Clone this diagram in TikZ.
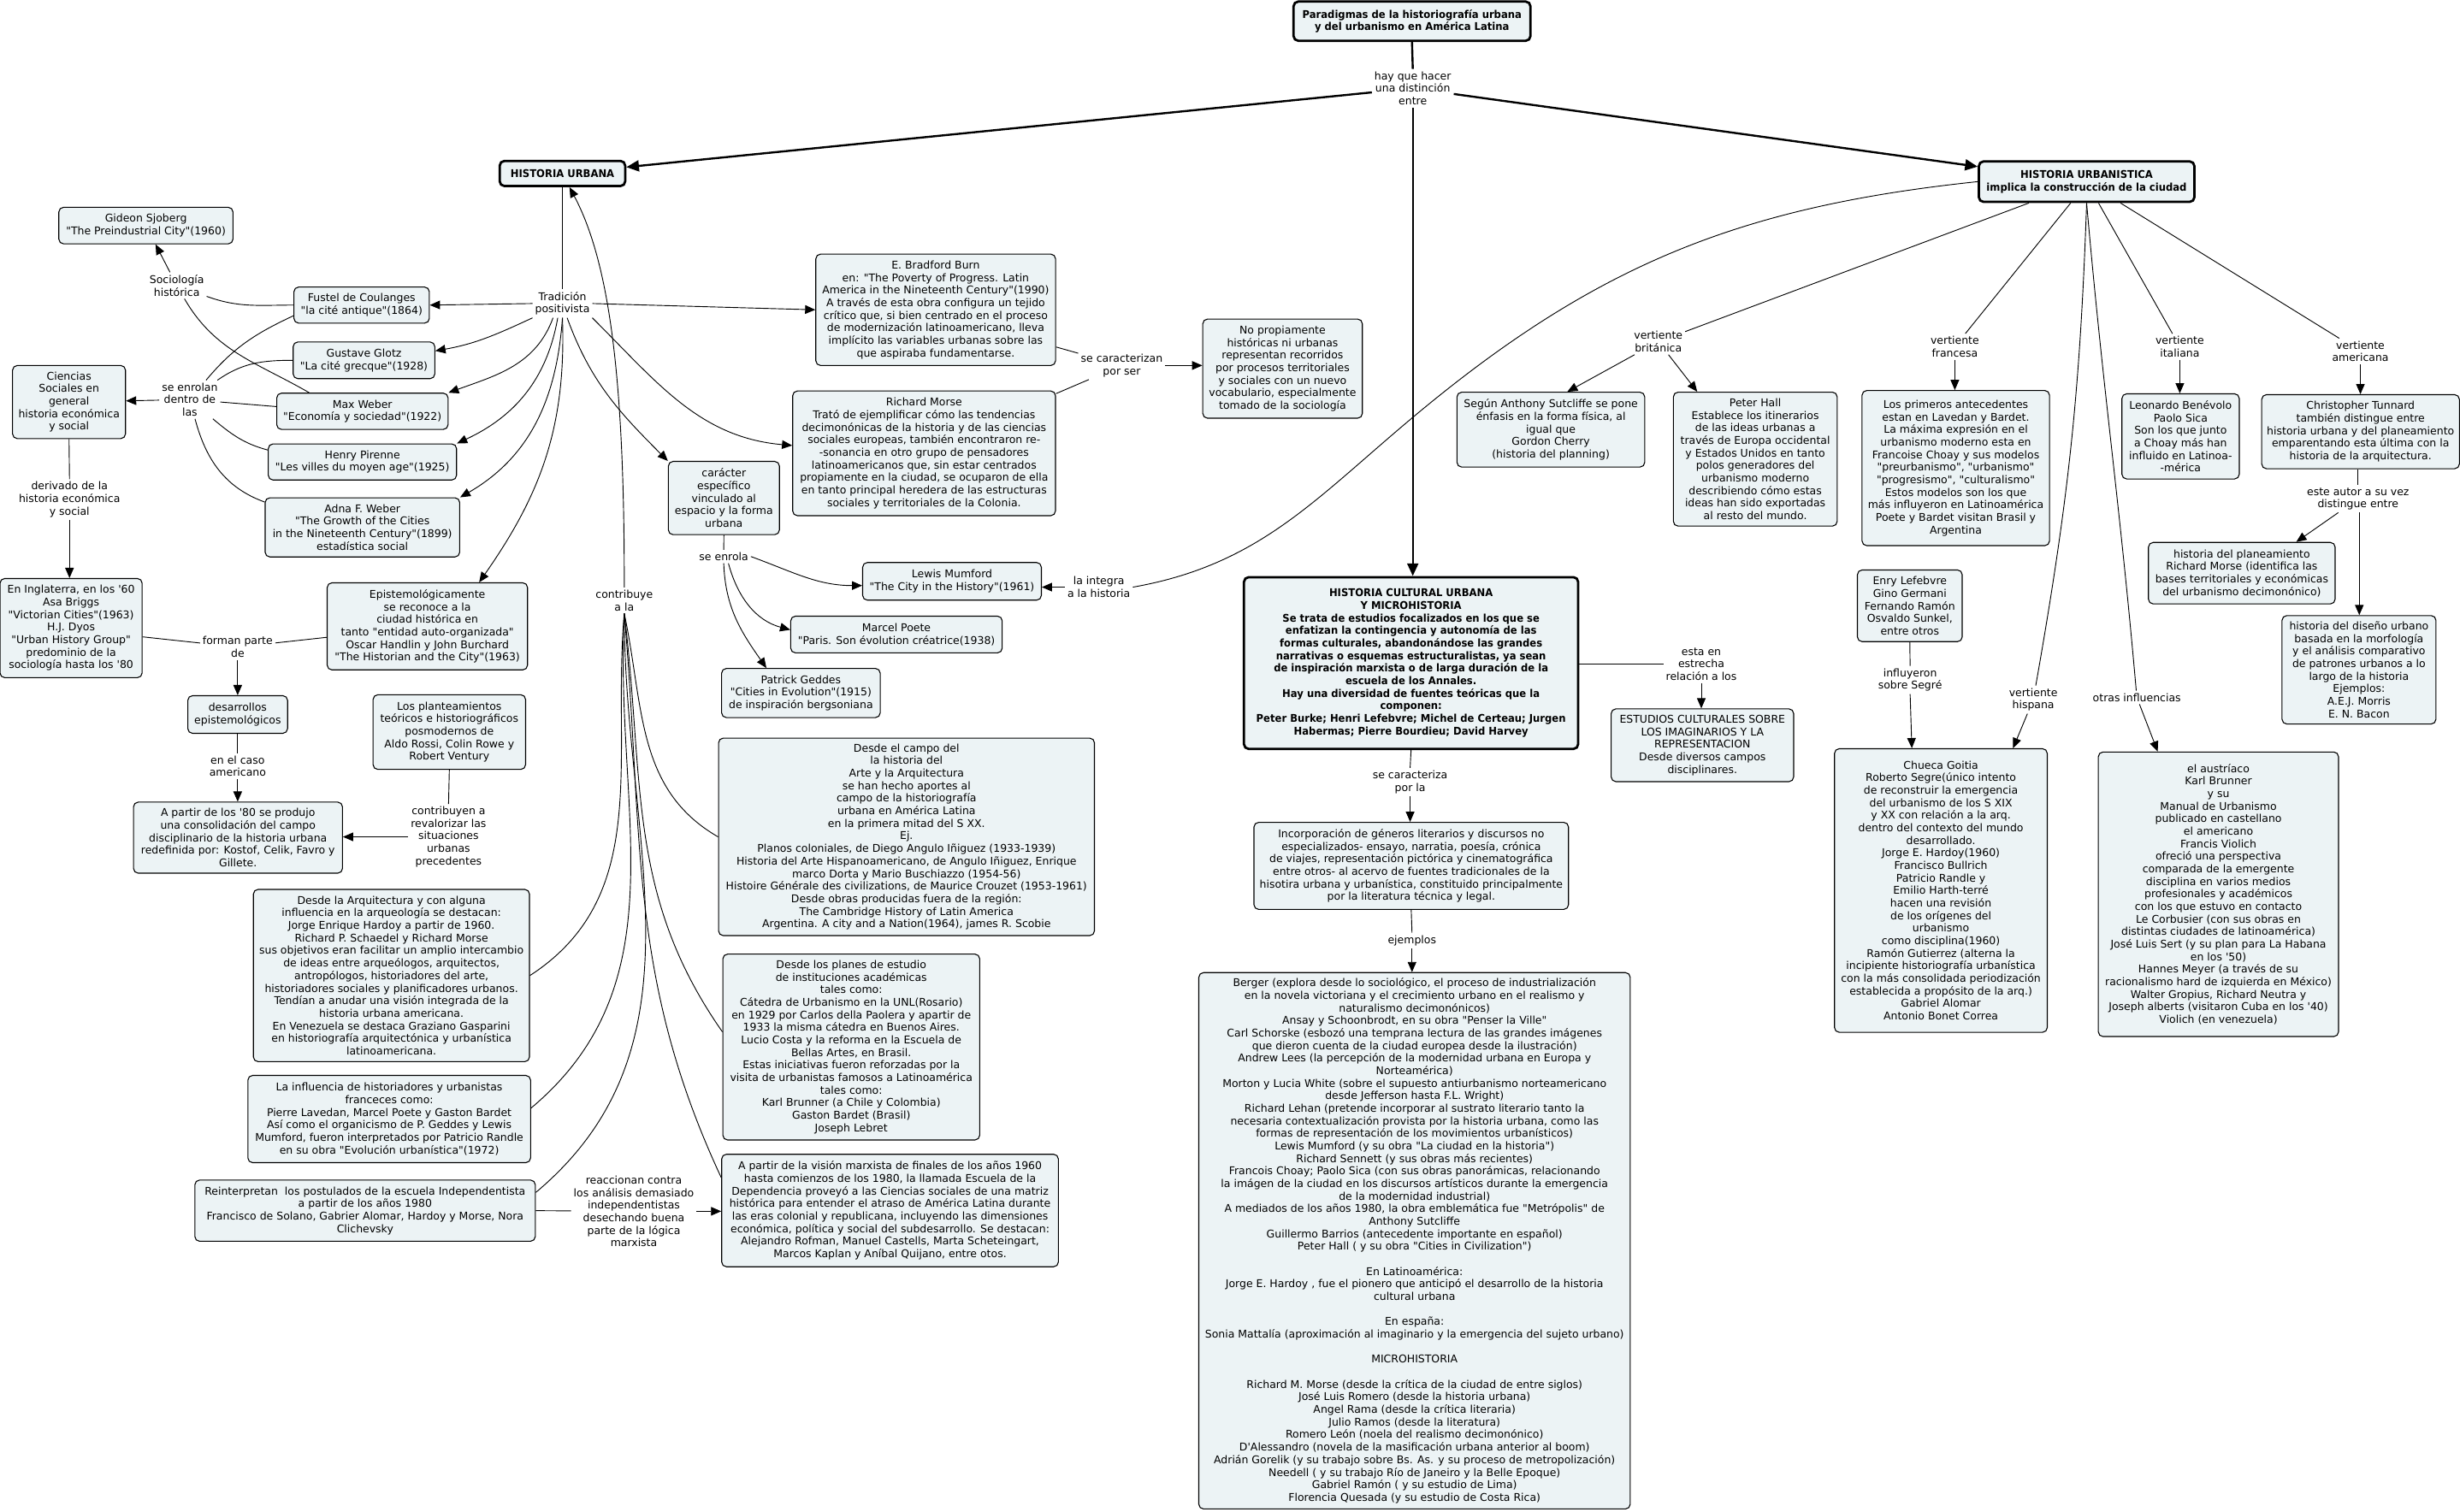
\documentclass[tikz,border=0pt]{standalone}
\usepackage{fontspec}
\setmainfont{DejaVu Sans}[Ligatures=TeXOff]
\newfontfamily\bfam{DejaVu Sans}[Ligatures=TeXOff,FakeStretch=0.93]
\usetikzlibrary{arrows.meta}
\definecolor{boxfill}{RGB}{236,243,245}
\begin{document}
\begin{tikzpicture}[x=1pt,y=-1pt,
  txt/.style={font=\fontsize{6.8}{8}\selectfont, align=center},
  box/.style={txt, draw, fill=boxfill, rounded corners=3pt, line width=0.6pt, inner sep=1pt},
  bbox/.style={box, line width=1.5pt, font=\fontsize{6.8}{8}\selectfont\bfam\bfseries},
  sz/.style 2 args={minimum width=#1, minimum height=#2},
  lbl/.style={txt, inner sep=1.5pt},
  conn/.style={line width=0.5pt},
  arr/.style={conn, -{Triangle[length=6.5pt,width=5.5pt]}},
  tarr/.style={line width=1.3pt, -{Triangle[length=8pt,width=7pt]}},
  tline/.style={line width=1.3pt}
]
\useasboundingbox (0,0) rectangle (1568,963.4);

% ---------- main nodes
\node[bbox, sz={151}{25}] (title) at (900,13.5) {Paradigmas de la historiografía urbana\\y del urbanismo en América Latina};
\node[bbox, sz={80}{16}] (HU) at (358.5,110.6) {HISTORIA URBANA};
\node[bbox, sz={137.4}{25.8}] (HUrb) at (1330,115.8) {HISTORIA URBANISTICA\\implica la construcción de la ciudad};
\node[bbox, sz={213}{109.5}] (HCU) at (899.4,422.7) {HISTORIA CULTURAL URBANA\\Y MICROHISTORIA\\Se trata de estudios focalizados en los que se\\enfatizan la contingencia y autonomía de las\\formas culturales, abandonándose las grandes\\narrativas o esquemas estructuralistas, ya sean\\de inspiración marxista o de larga duración de la\\escuela de los Annales.\\Hay una diversidad de fuentes teóricas que la\\componen:\\Peter Burke; Henri Lefebvre; Michel de Certeau; Jurgen\\Habermas; Pierre Bourdieu; David Harvey};

% ---------- labels
\node[lbl] (hayque) at (900.5,56.3) {hay que hacer\\una distinción\\entre};
\node[lbl] (tradicion) at (358.5,193.5) {Tradición\\positivista};
\node[lbl] (socio) at (112.7,182) {Sociología\\histórica};
\node[lbl] (enrolan) at (121,254.7) {se enrolan\\dentro de\\las};
\node[lbl] (derivado) at (44.3,318.5) {derivado de la\\historia económica\\y social};
\node[lbl] (forman) at (151.5,412.5) {forman parte\\de};
\node[lbl] (caso) at (151.5,488.4) {en el caso\\americano};
\node[lbl] (contribuyen) at (285.9,533.5) {contribuyen a\\revalorizar las\\situaciones\\urbanas\\precedentes};
\node[lbl] (reaccionan) at (404,772.2) {reaccionan contra\\los análisis demasiado\\independentistas\\desechando buena\\parte de la lógica\\marxista};
\node[lbl] (contribuye) at (397.9,382.8) {contribuye\\a la};
\node[lbl] (caracterizan) at (715,233) {se caracterizan\\por ser};
\node[lbl] (enrola) at (461.3,354.8) {se enrola};
\node[lbl] (integra) at (700.4,374.3) {la integra\\a la historia};
\node[lbl] (caracteriza) at (898.8,498.5) {se caracteriza\\por la};
\node[lbl] (ejemplos) at (900,599.6) {ejemplos};
\node[lbl] (esta) at (1084.4,423.3) {esta en\\estrecha\\relación a los};
\node[lbl] (britanica) at (1057,217.8) {vertiente\\británica};
\node[lbl] (francesa) at (1246,221) {vertiente\\francesa};
\node[lbl] (italiana) at (1389.4,221) {vertiente\\italiana};
\node[lbl] (americana) at (1504.5,224) {vertiente\\americana};
\node[lbl] (esteautor) at (1503,318) {este autor a su vez\\distingue entre};
\node[lbl] (influyeron) at (1217.5,433.5) {influyeron\\sobre Segré};
\node[lbl] (hispana) at (1296,446) {vertiente\\hispana};
\node[lbl] (otras) at (1362,444.6) {otras influencias};

% ---------- concept boxes (left)
\node[box, sz={111}{23.3}] (gideon) at (93,143.8) {Gideon Sjoberg\\"The Preindustrial City"(1960)};
\node[box, sz={86.3}{23}] (fustel) at (230.5,194.5) {Fustel de Coulanges\\"la cité antique"(1864)};
\node[box, sz={90.3}{23.4}] (glotz) at (232,229.7) {Gustave Glotz\\"La cité grecque"(1928)};
\node[box, sz={72}{46.6}] (ciencias) at (44,256.3) {Ciencias\\Sociales en\\general\\historia económica\\y social};
\node[box, sz={109.2}{23.1}] (maxweber) at (231,262.2) {Max Weber\\"Economía y sociedad"(1922)};
\node[box, sz={120}{23}] (pirenne) at (231,294.5) {Henry Pirenne\\"Les villes du moyen age"(1925)};
\node[box, sz={124}{37.7}] (adna) at (231,336.2) {Adna F. Weber\\"The Growth of the Cities\\in the Nineteenth Century"(1899)\\estadística social};
\node[box, sz={90.6}{63.2}] (inglaterra) at (45.3,400.4) {En Inglaterra, en los '60\\Asa Briggs\\"Victorian Cities"(1963)\\H.J. Dyos\\"Urban History Group"\\predominio de la\\sociología hasta los '80};
\node[box, sz={127.7}{55.5}] (epistemo) at (272.4,399.3) {Epistemológicamente\\se reconoce a la\\ciudad histórica en\\tanto "entidad auto-organizada"\\Oscar Handlin y John Burchard\\"The Historian and the City"(1963)};
\node[box, sz={63.6}{24}] (desarrollos) at (151.5,455.5) {desarrollos\\epistemológicos};
\node[box, sz={97.2}{47.6}] (planteamientos) at (286.4,466.7) {Los planteamientos\\teóricos e historiográficos\\posmodernos de\\Aldo Rossi, Colin Rowe y\\Robert Ventury};
\node[box, sz={133.2}{45.3}] (apartir80) at (151.7,534) {A partir de los '80 se produjo\\una consolidación del campo\\disciplinario de la historia urbana\\redefinida por: Kostof, Celik, Favro y\\Gillete.};
\node[box, sz={176}{109.8}] (arquitectura) at (249.5,621.9) {Desde la Arquitectura y con alguna\\influencia en la arqueología se destacan:\\Jorge Enrique Hardoy a partir de 1960.\\Richard P. Schaedel y Richard Morse\\sus objetivos eran facilitar un amplio intercambio\\de ideas entre arqueólogos, arquitectos,\\antropólogos, historiadores del arte,\\historiadores sociales y planificadores urbanos.\\Tendían a anudar una visión integrada de la\\historia urbana americana.\\En Venezuela se destaca Graziano Gasparini\\en historiografía arquitectónica y urbanística\\latinoamericana.};
\node[box, sz={180.2}{55.6}] (influencia) at (248.1,713.4) {La influencia de historiadores y urbanistas\\franceces como:\\Pierre Lavedan, Marcel Poete y Gaston Bardet\\Así como el organicismo de P. Geddes y Lewis\\Mumford, fueron interpretados por Patricio Randle\\en su obra "Evolución urbanística"(1972)};
\node[box, sz={217}{39}] (reinterpretan) at (232.7,771.8) {Reinterpretan\ \ los postulados de la escuela Independentista\\a partir de los años 1980\\Francisco de Solano, Gabrier Alomar, Hardoy y Morse, Nora\\Clichevsky};

% ---------- middle-left
\node[box, sz={152.8}{71}] (burn) at (596.4,197.5) {E. Bradford Burn\\en: "The Poverty of Progress. Latin\\America in the Nineteenth Century"(1990)\\A través de esta obra configura un tejido\\crítico que, si bien centrado en el proceso\\de modernización latinoamericano, lleva\\implícito las variables urbanas sobre las\\que aspiraba fundamentarse.};
\node[box, sz={101.7}{63.2}] (nopropiamente) at (817.5,235) {No propiamente\\históricas ni urbanas\\representan recorridos\\por procesos territoriales\\y sociales con un nuevo\\vocabulario, especialmente\\tomado de la sociología};
\node[box, sz={167.5}{79.5}] (morse) at (589,289) {Richard Morse\\Trató de ejemplificar cómo las tendencias\\decimonónicas de la historia y de las ciencias\\sociales europeas, también encontraron re-\\-sonancia en otro grupo de pensadores\\latinoamericanos que, sin estar centrados\\propiamente en la ciudad, se ocuparon de ella\\en tanto principal heredera de las estructuras\\sociales y territoriales de la Colonia.};
\node[box, sz={70.8}{46.7}] (caracter) at (461.4,317.5) {carácter\\específico\\vinculado al\\espacio y la forma\\urbana};
\node[box, sz={113.9}{24}] (mumford) at (606.8,370.6) {Lewis Mumford\\"The City in the History"(1961)};
\node[box, sz={134.8}{23.4}] (poete) at (571.4,404.5) {Marcel Poete\\"Paris. Son évolution créatrice(1938)};
\node[box, sz={101.1}{31.3}] (geddes) at (510.5,441.8) {Patrick Geddes\\"Cities in Evolution"(1915)\\de inspiración bergsoniana};
\node[box, sz={239.6}{125.9}] (campo) at (577.8,533.5) {Desde el campo del\\la historia del\\Arte y la Arquitectura\\se han hecho aportes al\\campo de la historiografía\\urbana en América Latina\\en la primera mitad del S XX.\\Ej.\\Planos coloniales, de Diego Angulo Iñiguez (1933-1939)\\Historia del Arte Hispanoamericano, de Angulo Iñiguez, Enrique\\marco Dorta y Mario Buschiazzo (1954-56)\\Histoire Générale des civilizations, de Maurice Crouzet (1953-1961)\\Desde obras producidas fuera de la región:\\The Cambridge History of Latin America\\Argentina. A city and a Nation(1964), james R. Scobie};
\node[box, sz={163.7}{118.5}] (planes) at (542.6,667.5) {Desde los planes de estudio\\de instituciones académicas\\tales como:\\Cátedra de Urbanismo en la UNL(Rosario)\\en 1929 por Carlos della Paolera y apartir de\\1933 la misma cátedra en Buenos Aires.\\Lucio Costa y la reforma en la Escuela de\\Bellas Artes, en Brasil.\\Estas iniciativas fueron reforzadas por la\\visita de urbanistas famosos a Latinoamérica\\tales como:\\Karl Brunner (a Chile y Colombia)\\Gaston Bardet (Brasil)\\Joseph Lebret};
\node[box, sz={214.6}{71.7}] (marxista) at (567.3,771.7) {A partir de la visión marxista de finales de los años 1960\\hasta comienzos de los 1980, la llamada Escuela de la\\Dependencia proveyó a las Ciencias sociales de una matriz\\histórica para entender el atraso de América Latina durante\\las eras colonial y republicana, incluyendo las dimensiones\\económica, política y social del subdesarrollo. Se destacan:\\Alejandro Rofman, Manuel Castells, Marta Scheteingart,\\Marcos Kaplan y Aníbal Quijano, entre otos.};

% ---------- center
\node[box, sz={200.5}{55.5}] (incorporacion) at (899.5,552) {Incorporación de géneros literarios y discursos no\\especializados- ensayo, narratia, poesía, crónica\\de viajes, representación pictórica y cinematográfica\\entre otros- al acervo de fuentes tradicionales de la\\hisotira urbana y urbanística, constituido principalmente\\por la literatura técnica y legal.};
\node[box, sz={275}{341.9}] (berger) at (901.6,791) {Berger (explora desde lo sociológico, el proceso de industrialización\\en la novela victoriana y el crecimiento urbano en el realismo y\\naturalismo decimonónicos)\\Ansay y Schoonbrodt, en su obra "Penser la Ville"\\Carl Schorske (esbozó una temprana lectura de las grandes imágenes\\que dieron cuenta de la ciudad europea desde la ilustración)\\Andrew Lees (la percepción de la modernidad urbana en Europa y\\Norteamérica)\\Morton y Lucia White (sobre el supuesto antiurbanismo norteamericano\\desde Jefferson hasta F.L. Wright)\\Richard Lehan (pretende incorporar al sustrato literario tanto la\\necesaria contextualización provista por la historia urbana, como las\\formas de representación de los movimientos urbanísticos)\\Lewis Mumford (y su obra "La ciudad en la historia")\\Richard Sennett (y sus obras más recientes)\\Francois Choay; Paolo Sica (con sus obras panorámicas, relacionando\\la imágen de la ciudad en los discursos artísticos durante la emergencia\\de la modernidad industrial)\\A mediados de los años 1980, la obra emblemática fue "Metrópolis" de\\Anthony Sutcliffe\\Guillermo Barrios (antecedente importante en español)\\Peter Hall ( y su obra "Cities in Civilization")\\[8pt]En Latinoamérica:\\Jorge E. Hardoy , fue el pionero que anticipó el desarrollo de la historia\\cultural urbana\\[8pt]En españa:\\Sonia Mattalía (aproximación al imaginario y la emergencia del sujeto urbano)\\[8pt]MICROHISTORIA\\[8pt]Richard M. Morse (desde la crítica de la ciudad de entre siglos)\\José Luis Romero (desde la historia urbana)\\Angel Rama (desde la crítica literaria)\\Julio Ramos (desde la literatura)\\Romero León (noela del realismo decimonónico)\\D'Alessandro (novela de la masificación urbana anterior al boom)\\Adrián Gorelik (y su trabajo sobre Bs. As. y su proceso de metropolización)\\Needell ( y su trabajo Río de Janeiro y la Belle Epoque)\\Gabriel Ramón ( y su estudio de Lima)\\Florencia Quesada (y su estudio de Costa Rica)};
\node[box, sz={116.3}{46.4}] (estudios) at (1085.1,475.1) {ESTUDIOS CULTURALES SOBRE\\LOS IMAGINARIOS Y LA\\REPRESENTACION\\Desde diversos campos\\disciplinares.};

% ---------- right
\node[box, sz={119.7}{47.7}] (sutcliffe) at (988.5,273.9) {Según Anthony Sutcliffe se pone\\énfasis en la forma física, al\\igual que\\Gordon Cherry\\(historia del planning)};
\node[box, sz={104.4}{85.4}] (peterhall) at (1118.8,292.7) {Peter Hall\\Establece los itinerarios\\de las ideas urbanas a\\través de Europa occidental\\y Estados Unidos en tanto\\polos generadores del\\urbanismo moderno\\describiendo cómo estas\\ideas han sido exportadas\\al resto del mundo.};
\node[box, sz={119.5}{98.9}] (primeros) at (1246.6,298.4) {Los primeros antecedentes\\estan en Lavedan y Bardet.\\La máxima expresión en el\\urbanismo moderno esta en\\Francoise Choay y sus modelos\\"preurbanismo", "urbanismo"\\"progresismo", "culturalismo"\\Estos modelos son los que\\más influyeron en Latinoamérica\\Poete y Bardet visitan Brasil y\\Argentina};
\node[box, sz={74.8}{54.3}] (leonardo) at (1389.9,278.2) {Leonardo Benévolo\\Paolo Sica\\Son los que junto\\a Choay más han\\influido en Latinoa-\\-mérica};
\node[box, sz={126}{47.2}] (tunnard) at (1504.6,275.2) {Christopher Tunnard\\también distingue entre\\historia urbana y del planeamiento\\emparentando esta última con la\\historia de la arquitectura.};
\node[box, sz={119}{39.2}] (planeamiento) at (1428.9,365.4) {historia del planeamiento\\Richard Morse (identifica las\\bases territoriales y económicas\\del urbanismo decimonónico)};
\node[box, sz={98.1}{69.1}] (diseno) at (1503.6,427) {historia del diseño urbano\\basada en la morfología\\y el análisis comparativo\\de patrones urbanos a lo\\largo de la historia\\Ejemplos:\\A.E.J. Morris\\E. N. Bacon};
\node[box, sz={66.8}{45.7}] (enry) at (1217.3,386.2) {Enry Lefebvre\\Gino Germani\\Fernando Ramón\\Osvaldo Sunkel,\\entre otros};
\node[box, sz={135.6}{180.8}] (chueca) at (1237.1,567.7) {Chueca Goitia\\Roberto Segre(único intento\\de reconstruir la emergencia\\del urbanismo de los S XIX\\y XX con relación a la arq.\\dentro del contexto del mundo\\desarrollado.\\Jorge E. Hardoy(1960)\\Francisco Bullrich\\Patricio Randle y\\Emilio Harth-terré\\hacen una revisión\\de los orígenes del\\urbanismo\\como disciplina(1960)\\Ramón Gutierrez (alterna la\\incipiente historiografía urbanística\\con la más consolidada periodización\\establecida a propósito de la arq.)\\Gabriel Alomar\\Antonio Bonet Correa};
\node[box, sz={153.1}{181.4}] (austriaco) at (1414,570.1) {el austríaco\\Karl Brunner\\y su\\Manual de Urbanismo\\publicado en castellano\\el americano\\Francis Violich\\ofreció una perspectiva\\comparada de la emergente\\disciplina en varios medios\\profesionales y académicos\\con los que estuvo en contacto\\Le Corbusier (con sus obras en\\distintas ciudades de latinoamérica)\\José Luis Sert (y su plan para La Habana\\en los '50)\\Hannes Meyer (a través de su\\racionalismo hard de izquierda en México)\\Walter Gropius, Richard Neutra y\\Joseph alberts (visitaron Cuba en los '40)\\Violich (en venezuela)};

\coordinate (wp) at (899.4,267);

% ---------- connectors: main
\draw[tline] (title.south) -- (hayque.north);
\draw[tarr] (hayque) -- (HU);
\draw[tarr] (hayque) -- (HUrb);
\draw[tarr] (hayque.south) -- (hayque.south |- HCU.north);

% ---------- historia urbana
\draw[conn] (HU.south) -- (tradicion.north);
\draw[arr] (tradicion.west) -- (fustel.east);
\draw[arr] (tradicion.south west) to[out=205,in=10] ([yshift=6pt]glotz.east);
\draw[arr] ([xshift=-6pt]tradicion.south) to[out=250,in=20] (maxweber.north east);
\draw[arr] ([xshift=-3pt]tradicion.south) to[out=260,in=25] (pirenne.north east);
\draw[arr] (tradicion.south) to[out=266,in=30] (adna.north east);
\draw[arr] (tradicion.south) to[out=272,in=55] ([xshift=33pt]epistemo.north);
\draw[arr] (tradicion.east) -- (burn.west);
\draw[arr] (tradicion.south east) to[out=-45,in=175] ([yshift=5pt]morse.west);
\draw[arr] ([xshift=3pt]tradicion.south) to[out=-70,in=135] (caracter.north west);

\draw[conn] (fustel) to[out=180,in=-20] (socio);
\draw[arr] (socio) -- (gideon);
\draw[conn] ([xshift=21pt]maxweber.north west) to[out=150,in=-60] (socio);

\draw[conn] ([yshift=5pt]fustel.south west) to[out=205,in=50] (enrolan);
\draw[conn] (glotz.west) to[out=180,in=35] (enrolan);
\draw[conn] ([yshift=3pt]maxweber.west) -- (enrolan);
\draw[conn] ([yshift=7.6pt]pirenne.west) to[out=165,in=-40] (enrolan);
\draw[conn] ([yshift=-3pt]adna.north west) to[out=160,in=-75] (enrolan);
\draw[arr] (enrolan) -- (ciencias);

\draw[conn] (ciencias.south) -- (derivado.north);
\draw[arr] (derivado.south) -- (derivado.south |- inglaterra.north);
\draw[conn] ([yshift=-5.6pt]inglaterra.east) -- (forman);
\draw[conn] ([yshift=-7pt]epistemo.west) -- (forman);
\draw[arr] (forman.south) -- (forman.south |- desarrollos.north);
\draw[conn] (desarrollos.south) -- (caso.north);
\draw[arr] (caso.south) -- (caso.south |- apartir80.north);
\draw[conn] (planteamientos.south) -- (contribuyen.north);
\draw[arr] (contribuyen.west) -- (contribuyen.west -| apartir80.east);

\draw[arr] (contribuye.north) .. controls (398,250) and (390,170) .. ([xshift=4.5pt]HU.south);
\draw[conn] (contribuye.south) to[out=-78,in=150] (campo.west);
\draw[conn] (contribuye.south) to[out=-95,in=33] (arquitectura.east);
\draw[conn] (contribuye.south) to[out=-93,in=40] ([yshift=7pt]influencia.east);
\draw[conn] (contribuye.south) to[out=-90,in=40] ([yshift=11.6pt]reinterpretan.east);
\draw[conn] (contribuye.south) to[out=-83,in=125] ([yshift=9.7pt]planes.west);
\draw[conn] (contribuye.south) to[out=-85,in=115] ([yshift=21pt]marxista.west);
\draw[conn] (reinterpretan.east) -- (reaccionan);
\draw[arr] (reaccionan.east) -- (reaccionan.east -| marxista.west);

\draw[conn] ([yshift=-23.7pt]burn.east) -- (caracterizan);
\draw[conn] ([yshift=-2pt]morse.north east) -- (caracterizan);
\draw[arr] (caracterizan.east) -- (caracterizan.east -| nopropiamente.west);

\draw[conn] (caracter.south) -- (enrola.north);
\draw[arr] (enrola.east) to[out=-20,in=180] ([yshift=-2.7pt]mumford.west);
\draw[arr] ([xshift=3pt]enrola.south) to[out=-75,in=165] ([yshift=3pt]poete.west);
\draw[arr] (enrola.south) to[out=-88,in=125] ([xshift=-22pt]geddes.north);
\draw[arr] (integra.west) -- (integra.west -| mumford.east);
\draw[conn] (HUrb.west) to[out=186,in=40] (wp) to[out=220,in=10] (integra.east);

% ---------- historia urbanistica
\draw[conn] ([xshift=32.6pt]HUrb.south west) -- (britanica);
\draw[arr] (britanica) -- ([xshift=10.5pt]sutcliffe.north);
\draw[arr] (britanica) -- ([xshift=-37pt]peterhall.north);
\draw[conn] ([xshift=-10.2pt]HUrb.south) -- (francesa);
\draw[arr] (francesa.south) -- (francesa.south |- primeros.north);
\draw[conn] ([xshift=7.6pt]HUrb.south) -- (italiana);
\draw[arr] (italiana.south) -- (italiana.south |- leonardo.north);
\draw[conn] ([xshift=21.6pt]HUrb.south) -- (americana);
\draw[arr] (americana.south) -- (americana.south |- tunnard.north);
\draw[conn] (esteautor.north |- tunnard.south) -- (esteautor.north);
\draw[arr] (esteautor) -- ([xshift=34.7pt]planeamiento.north);
\draw[arr] ([xshift=0.8pt]esteautor.south) -- ([xshift=0.8pt]esteautor.south |- diseno.north);
\draw[conn] (HUrb.south) to[out=-92,in=80] (hispana);
\draw[arr] (hispana) -- ([xshift=46pt]chueca.north);
\draw[conn] (HUrb.south) to[out=-85,in=95] (otras);
\draw[arr] (otras) -- ([xshift=-38.7pt]austriaco.north);
\draw[conn] (enry.south) -- (influyeron.north);
\draw[arr] (influyeron.south) -- ([xshift=-18.5pt]chueca.north);

% ---------- historia cultural
\draw[conn] (HCU.south) -- (caracteriza.north);
\draw[arr] (caracteriza.south) -- (caracteriza.south |- incorporacion.north);
\draw[conn] (incorporacion.south) -- (ejemplos.north);
\draw[arr] (ejemplos.south) -- (ejemplos.south |- berger.north);
\draw[conn] (HCU.east |- esta) -- (esta.west);
\draw[arr] (esta.south) -- (esta.south |- estudios.north);
\end{tikzpicture}
\end{document}
